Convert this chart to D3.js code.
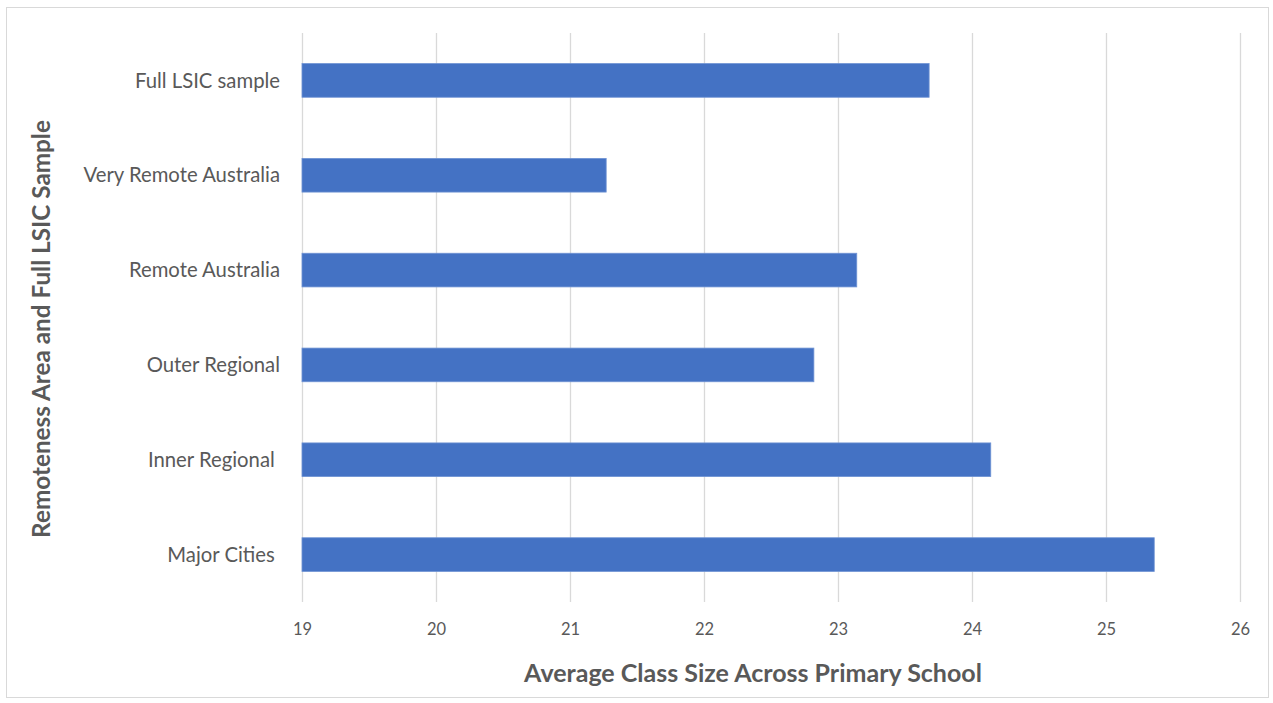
<!DOCTYPE html>
<html>
<head>
<meta charset="utf-8">
<script src="https://cdn.jsdelivr.net/npm/d3@7"></script>
<style>
  html, body { margin: 0; padding: 0; background: #fff; }
  svg text { font-family: Lato, "Open Sans", sans-serif; white-space: pre; }
</style>
</head>
<body>
<svg id="chart" width="1273" height="703"></svg>
<script>
const categories = ["Full LSIC sample", "Very Remote Australia", "Remote Australia", "Outer Regional", "Inner Regional ", "Major Cities "];
const values = [23.68, 21.27, 23.14, 22.82, 24.14, 25.36];
const tickValues = [19, 20, 21, 22, 23, 24, 25, 26];
const xTitle = "Average Class Size Across Primary School";
const yTitle = "Remoteness Area and Full LSIC Sample";

const svg = d3.select("#chart");
const W = 1273, H = 703;
const margin = { left: 302, right: 33, top: 33, bottom: 101 };

svg.append("rect").attr("x", 6.5).attr("y", 7.5).attr("width", 1262).attr("height", 690)
  .attr("fill", "#fff").attr("stroke", "#d9d9d9").attr("stroke-width", 1);

const x = d3.scaleLinear().domain([19, 26]).range([margin.left, W - margin.right]);
const y = d3.scaleBand().domain(categories).range([margin.top, H - margin.bottom]).paddingInner(0.645).paddingOuter(0.3225);

// gridlines
svg.append("g").selectAll("line").data(tickValues).join("line")
  .attr("x1", d => Math.round(x(d)) + 0.5).attr("x2", d => Math.round(x(d)) + 0.5)
  .attr("y1", margin.top).attr("y2", H - margin.bottom)
  .attr("stroke", "#d9d9d9").attr("stroke-width", 1.3);

// bars
svg.append("g").selectAll("rect").data(categories).join("rect")
  .attr("x", x(19))
  .attr("y", d => y(d))
  .attr("width", (d, i) => x(values[i]) - x(19))
  .attr("height", y.bandwidth())
  .attr("fill", "#4472c4")
  .attr("stroke", "#6f93d4").attr("stroke-width", 0.8);

// x axis tick labels
const xAxis = d3.axisBottom(x).tickValues(tickValues).tickSize(0).tickPadding(0).tickFormat(d3.format("d"));
const gx = svg.append("g").attr("transform", `translate(0,${H - margin.bottom + 21})`).call(xAxis);
gx.select(".domain").remove();
gx.selectAll("text").attr("fill", "#595959").attr("font-size", "16.5px").attr("dy", "0.71em");

// y axis labels
const yAxis = d3.axisLeft(y).tickSize(0).tickPadding(22);
const gy = svg.append("g").attr("transform", `translate(${margin.left},0)`).call(yAxis);
gy.select(".domain").remove();
gy.selectAll("text").attr("fill", "#595959").attr("font-size", "20.3px").attr("dy", "0.35em");

// titles
svg.append("text").attr("x", 753).attr("y", 682).attr("text-anchor", "middle")
  .attr("font-size", "25px").attr("font-weight", "bold").attr("fill", "#595959").text(xTitle);
svg.append("text").attr("transform", "translate(50,329) rotate(-90)").attr("text-anchor", "middle")
  .attr("font-size", "24.3px").attr("font-weight", "bold").attr("fill", "#595959").text(yTitle);
</script>
</body>
</html>
